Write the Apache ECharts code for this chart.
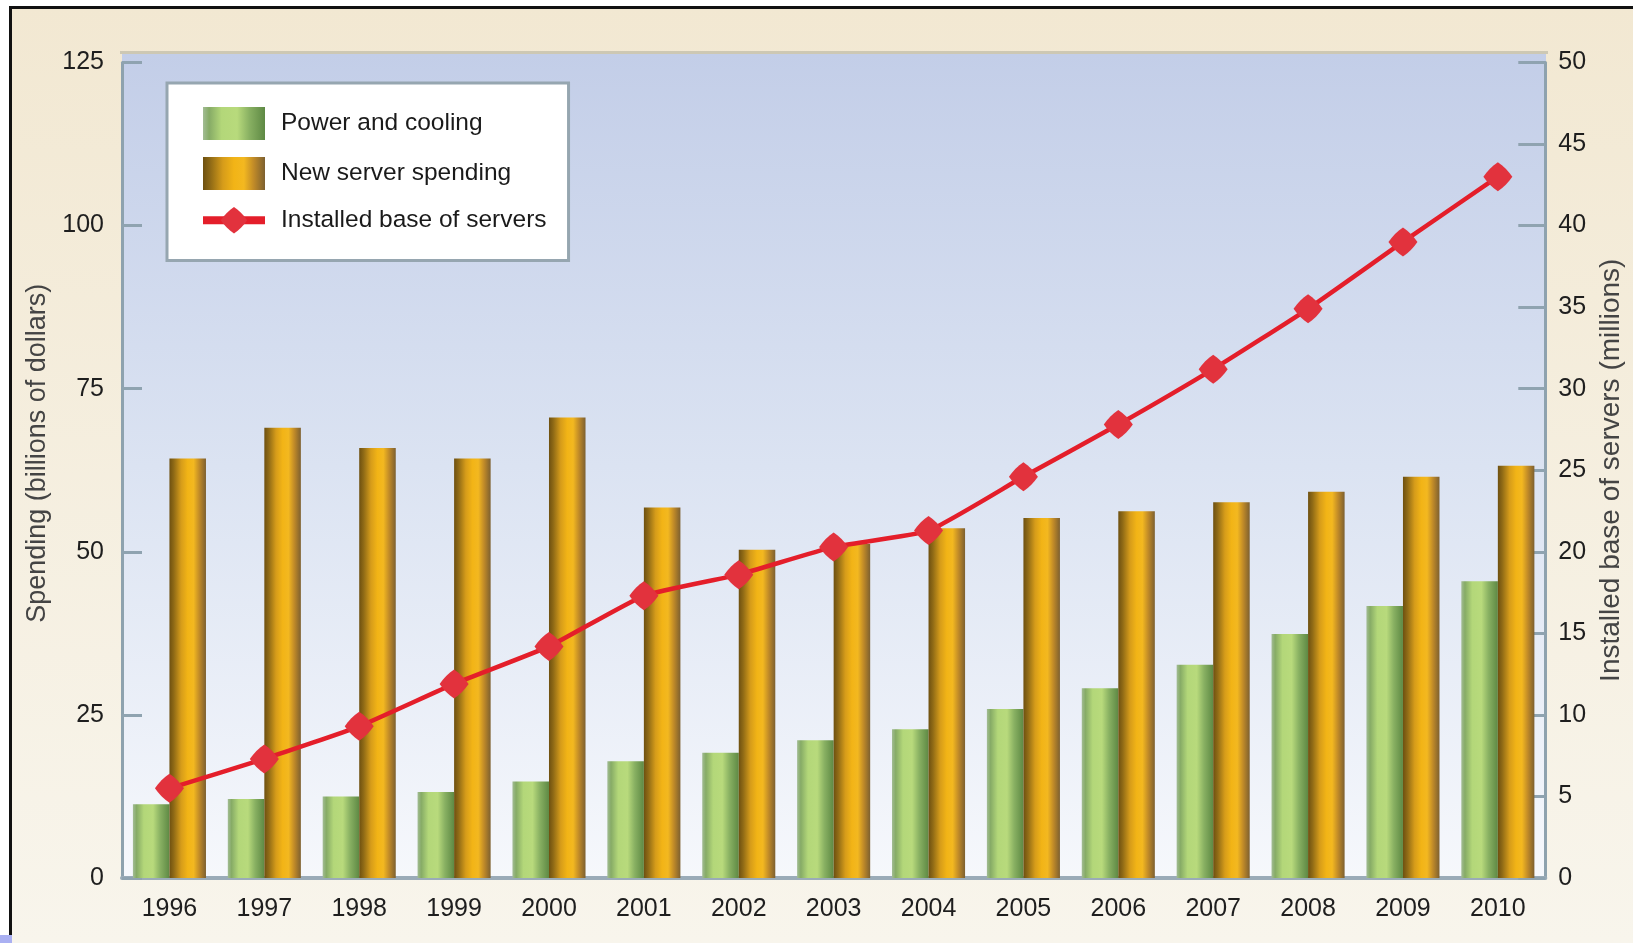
<!DOCTYPE html>
<html>
<head>
<meta charset="utf-8">
<script src="https://cdn.jsdelivr.net/npm/echarts@6/dist/echarts.min.js"></script>
<style>
html,body{margin:0;padding:0;background:#ffffff;}
#chart{width:1633px;height:943px;}
</style>
</head>
<body>
<div id="chart"></div>
<script>
const years = ['1996','1997','1998','1999','2000','2001','2002','2003','2004','2005','2006','2007','2008','2009','2010'];
const powerCooling = [11.3, 12.1, 12.5, 13.2, 14.8, 17.9, 19.2, 21.1, 22.8, 25.9, 29.1, 32.7, 37.4, 41.7, 45.5];
const newServer = [64.3, 69.0, 65.9, 64.3, 70.6, 56.8, 50.3, 51.2, 53.6, 55.2, 56.2, 57.6, 59.2, 61.5, 63.2];
const installedBase = [5.5, 7.3, 9.3, 11.9, 14.2, 17.3, 18.6, 20.3, 21.3, 24.6, 27.8, 31.2, 34.9, 39.0, 43.0];
const leftTicks = {min: 0, max: 125, interval: 25};
const rightTicks = {min: 0, max: 50, interval: 5};

const FONT = "'Liberation Sans', Arial, sans-serif";
const chart = echarts.init(document.getElementById('chart'), null, {renderer: 'canvas'});

const greenGrad = new echarts.graphic.LinearGradient(0, 0, 1, 0, [
  {offset: 0, color: '#a2bc94'},
  {offset: 0.1, color: '#86ab66'},
  {offset: 0.3, color: '#b3d779'},
  {offset: 0.55, color: '#b8da7c'},
  {offset: 0.75, color: '#88b062'},
  {offset: 1, color: '#5e8944'}
]);
const orangeGrad = new echarts.graphic.LinearGradient(0, 0, 1, 0, [
  {offset: 0, color: '#6e5010'},
  {offset: 0.12, color: '#8f6a16'},
  {offset: 0.32, color: '#d69c1a'},
  {offset: 0.5, color: '#f2b416'},
  {offset: 0.66, color: '#f3b820'},
  {offset: 0.82, color: '#c08a28'},
  {offset: 1, color: '#7d6030'}
]);

const starPath = 'path://M0,-16 C6,-12 12,-6 16,0 C12,6 6,12 0,16 C-6,12 -12,6 -16,0 C-12,-6 -6,-12 0,-16 Z';

const option = {
  backgroundColor: '#ffffff',
  animation: false,
  graphic: [
    {type: 'rect', z: -10, silent: true, shape: {x: 10, y: 7, width: 1623, height: 936},
      style: {fill: new echarts.graphic.LinearGradient(0, 0, 0, 1, [
        {offset: 0, color: '#f2e8d2'}, {offset: 1, color: '#f8f5ec'}])}},
    {type: 'rect', z: -9, silent: true, shape: {x: 9, y: 7, width: 3, height: 936}, style: {fill: '#111111'}},
    {type: 'rect', z: -9, silent: true, shape: {x: 9, y: 6, width: 1624, height: 3}, style: {fill: '#111111'}},
    {type: 'rect', z: -9, silent: true, shape: {x: 0, y: 935, width: 12, height: 8}, style: {fill: '#aab0f2'}},
    {type: 'rect', z: -8, silent: true, shape: {x: 122, y: 53, width: 1424, height: 825},
      style: {fill: new echarts.graphic.LinearGradient(0, 0, 0, 1, [
        {offset: 0, color: '#c3cee8'}, {offset: 0.5, color: '#dbe3f2'}, {offset: 1, color: '#f6f8fc'}])}},
    {type: 'rect', z: -7, silent: true, shape: {x: 120, y: 51, width: 1428, height: 3}, style: {fill: '#cdc8b4'}}
  ],
  grid: {left: 122, right: 87, top: 62.5, bottom: 65, containLabel: false},
  legend: {
    orient: 'vertical',
    left: 167, top: 83,
    padding: [24, 22, 27, 32],
    backgroundColor: '#ffffff',
    borderColor: '#96a6b0',
    borderWidth: 3,
    itemWidth: 62, itemHeight: 33, itemGap: 17,
    textStyle: {fontFamily: FONT, fontSize: 24.5, color: '#1a1a1a', padding: [0, 0, 0, 11]},
    data: [
      {name: 'Power and cooling', icon: 'rect'},
      {name: 'New server spending', icon: 'rect'},
      {name: 'Installed base of servers', lineStyle: {width: 8}}
    ]
  },
  xAxis: {
    type: 'category',
    data: years,
    axisLine: {lineStyle: {color: '#9aabb8', width: 4}},
    axisTick: {show: false},
    axisLabel: {fontFamily: FONT, fontSize: 25, color: '#1e1e1e', margin: 19}
  },
  yAxis: [
    {
      type: 'value', min: leftTicks.min, max: leftTicks.max, interval: leftTicks.interval,
      name: 'Spending (billions of dollars)', nameLocation: 'middle', nameRotate: 90, nameGap: 62,
      nameTextStyle: {fontFamily: FONT, fontSize: 27, color: '#444444', padding: [0, 0, 0, 34]},
      axisLine: {show: true, lineStyle: {color: '#8ea2ae', width: 3}},
      axisTick: {show: true, inside: true, length: 20, lineStyle: {color: '#8fa3b0', width: 3}},
      splitLine: {show: false},
      axisLabel: {fontFamily: FONT, fontSize: 25, color: '#1e1e1e', margin: 18}
    },
    {
      type: 'value', min: rightTicks.min, max: rightTicks.max, interval: rightTicks.interval,
      name: 'Installed base of servers (millions)', nameLocation: 'middle', nameRotate: 90, nameGap: 51,
      nameTextStyle: {fontFamily: FONT, fontSize: 28, color: '#444444'},
      axisLine: {show: true, lineStyle: {color: '#8ea2ae', width: 3}},
      axisTick: {show: true, inside: true, length: 27, lineStyle: {color: '#8fa3b0', width: 3}},
      splitLine: {show: false},
      axisLabel: {fontFamily: FONT, fontSize: 25, color: '#1e1e1e', margin: 13}
    }
  ],
  series: [
    {
      name: 'Power and cooling', type: 'bar', data: powerCooling, yAxisIndex: 0,
      barGap: '0%', barCategoryGap: '23%',
      itemStyle: {color: greenGrad}
    },
    {
      name: 'New server spending', type: 'bar', data: newServer, yAxisIndex: 0,
      itemStyle: {color: orangeGrad}
    },
    {
      name: 'Installed base of servers', type: 'line', data: installedBase, yAxisIndex: 1,
      smooth: 0.15, z: 5,
      symbol: starPath, symbolSize: 29,
      lineStyle: {color: '#e41e2a', width: 4.5},
      itemStyle: {color: '#e2323d'}
    }
  ]
};
chart.setOption(option);
</script>
</body>
</html>
